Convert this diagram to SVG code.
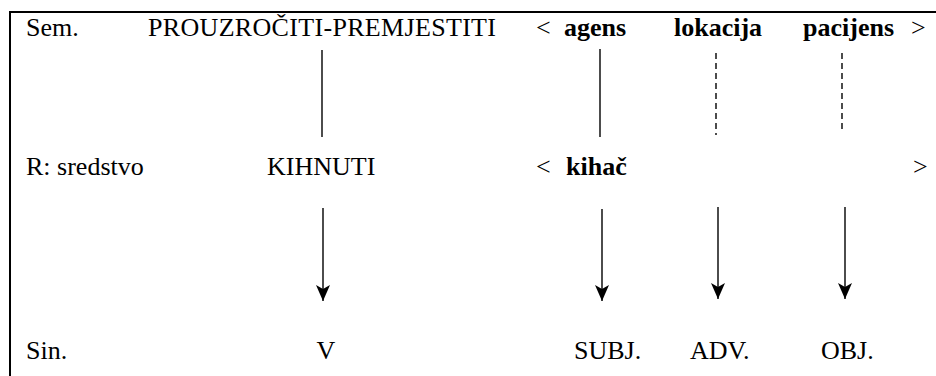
<svg xmlns="http://www.w3.org/2000/svg" width="936" height="376" viewBox="0 0 936 376">
  <defs>
    <style>
      .t { font-family: "Liberation Serif", "DejaVu Serif", serif; font-size: 26px; fill: #000; }
      .b { font-weight: bold; }
      .ln { stroke: #000; stroke-width: 1.4; fill: none; }
      .dash { stroke-dasharray: 6 4; }
      .frame { stroke: #000; stroke-width: 2; fill: none; }
    </style>
    <marker id="arr" viewBox="0 0 16 14" refX="16" refY="7" markerWidth="16" markerHeight="14" markerUnits="userSpaceOnUse" orient="auto">
      <path d="M0,0 L4,7 L0,14 L16,7 Z" fill="#000"/>
    </marker>
  </defs>
  <rect width="936" height="376" fill="#fff"/>
  <g id="frame">
    <path class="frame" d="M10,377 L10,12 L937,12"/>
  </g>
  <g id="row-sem">
    <text class="t" x="26" y="36">Sem.</text>
    <text class="t" x="148" y="36" textLength="348" lengthAdjust="spacing">PROUZROČITI-PREMJESTITI</text>
    <text class="t" x="536" y="36">&lt;</text>
    <text class="t b" x="564" y="36">agens</text>
    <text class="t b" x="674" y="36">lokacija</text>
    <text class="t b" x="803" y="36">pacijens</text>
    <text class="t" x="911" y="36">&gt;</text>
  </g>
  <g id="row-r">
    <text class="t" x="26" y="175">R: sredstvo</text>
    <text class="t" x="267" y="175">KIHNUTI</text>
    <text class="t" x="536" y="175">&lt;</text>
    <text class="t b" x="566" y="175">kihač</text>
    <text class="t" x="913" y="175">&gt;</text>
  </g>
  <g id="row-sin">
    <text class="t" x="26" y="359">Sin.</text>
    <text class="t" x="326" y="359" text-anchor="middle">V</text>
    <text class="t" x="574" y="359">SUBJ.</text>
    <text class="t" x="690" y="359">ADV.</text>
    <text class="t" x="821" y="359">OBJ.</text>
  </g>
  <g id="connectors">
    <line class="ln" x1="322" y1="50" x2="322" y2="137"/>
    <line class="ln" x1="600" y1="49" x2="600" y2="137"/>
    <line class="ln dash" x1="716" y1="53" x2="716" y2="135"/>
    <line class="ln dash" x1="842" y1="53" x2="842" y2="133"/>
    <line class="ln" x1="323" y1="208" x2="323" y2="301" marker-end="url(#arr)"/>
    <line class="ln" x1="602" y1="209" x2="602" y2="301" marker-end="url(#arr)"/>
    <line class="ln" x1="718" y1="207" x2="718" y2="299" marker-end="url(#arr)"/>
    <line class="ln" x1="845" y1="207" x2="845" y2="299" marker-end="url(#arr)"/>
  </g>
</svg>
